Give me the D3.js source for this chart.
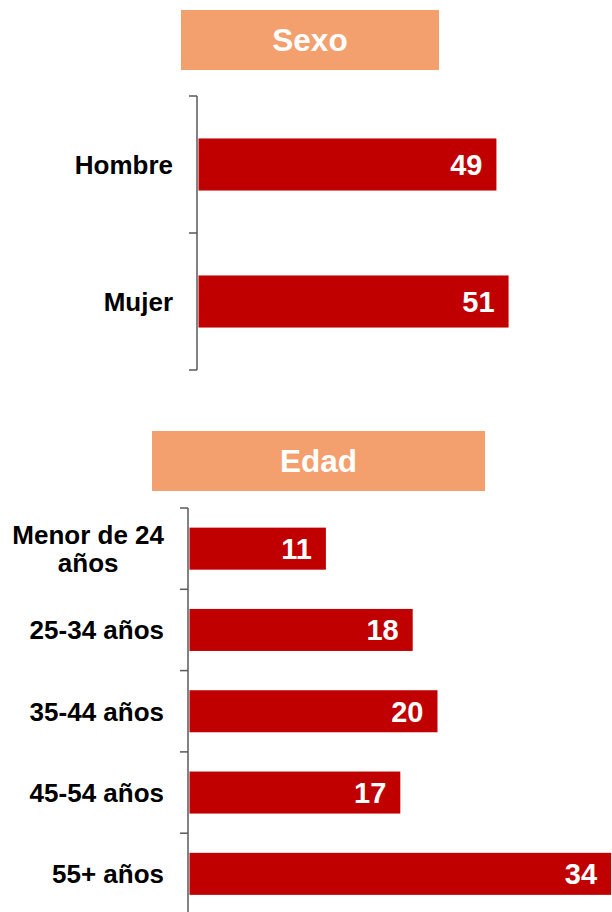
<!DOCTYPE html>
<html>
<head>
<meta charset="utf-8">
<script src="https://cdn.jsdelivr.net/npm/d3@7"></script>
<style>
  body { margin: 0; background: #fff; }
  svg { display: block; font-family: "Liberation Sans", Arial, sans-serif; }
</style>
</head>
<body>
<div id="chart"></div>
<script>
// data
const sexoLabels = ['Hombre', 'Mujer'];
const sexoValues = [49, 51];
const edadLabels = ['Menor de 24|años', '25-34 años', '35-44 años', '45-54 años', '55+ años'];
const edadValues = [11, 18, 20, 17, 34];

const width = 612, height = 912;
const barColor = '#C00000';
const headColor = '#F4A06E';
const axisColor = '#595959';

const svg = d3.select('#chart').append('svg')
    .attr('width', width)
    .attr('height', height);

function panel(cfg) {
    const g = svg.append('g');

    // header box
    g.append('rect')
        .attr('x', cfg.head[0]).attr('y', cfg.head[1])
        .attr('width', cfg.head[2]).attr('height', cfg.head[3])
        .attr('fill', headColor);
    g.append('text')
        .attr('x', cfg.head[0] + cfg.head[2] / 2)
        .attr('y', cfg.head[1] + cfg.head[3] / 2)
        .attr('dy', '0.36em')
        .attr('text-anchor', 'middle')
        .attr('font-size', 31.5).attr('font-weight', 'bold')
        .attr('fill', '#fff')
        .text(cfg.title);

    const y = d3.scaleBand()
        .domain(cfg.labels)
        .range([cfg.y0, cfg.y1])
        .paddingInner(cfg.pad).paddingOuter(cfg.pad / 2);

    const x = d3.scaleLinear()
        .domain([0, cfg.max])
        .range([cfg.axisX + 1.5, cfg.axisX + 1.5 + cfg.span]);

    // axis line + ticks on category boundaries
    const step = y.step();
    g.append('line')
        .attr('x1', cfg.axisX).attr('x2', cfg.axisX)
        .attr('y1', cfg.y0).attr('y2', cfg.y1)
        .attr('stroke', axisColor).attr('stroke-width', 1.5);
    d3.range(cfg.labels.length + 1).forEach(i => {
        g.append('line')
            .attr('x1', cfg.axisX - 8).attr('x2', cfg.axisX)
            .attr('y1', cfg.y0 + i * step).attr('y2', cfg.y0 + i * step)
            .attr('stroke', axisColor).attr('stroke-width', 1.5);
    });

    // bars
    g.selectAll('rect.bar')
        .data(cfg.values)
        .enter().append('rect')
        .attr('class', 'bar')
        .attr('x', x(0))
        .attr('y', (d, i) => y(cfg.labels[i]))
        .attr('width', d => x(d) - x(0))
        .attr('height', y.bandwidth())
        .attr('fill', barColor);

    // values
    g.selectAll('text.val')
        .data(cfg.values)
        .enter().append('text')
        .attr('class', 'val')
        .attr('x', d => x(d) - 14)
        .attr('y', (d, i) => y(cfg.labels[i]) + y.bandwidth() / 2)
        .attr('dy', '0.36em')
        .attr('text-anchor', 'end')
        .attr('font-size', 29).attr('font-weight', 'bold')
        .attr('fill', '#fff')
        .text(d => d);

    // category labels
    const labelRight = cfg.axisX - 24;
    cfg.labels.forEach(lab => {
        const lines = lab.split('|');
        const cy = y(lab) + y.bandwidth() / 2;
        const t = g.append('text')
            .attr('font-size', 26).attr('font-weight', 'bold')
            .attr('fill', '#000');
        const lh = 28.5;
        lines.forEach((ln, k) => {
            t.append('tspan')
                .attr('y', cy + (k - (lines.length - 1) / 2) * lh)
                .attr('dy', '0.36em')
                .text(ln);
        });
        if (lines.length > 1) {
            let w = 0;
            t.selectAll('tspan').each(function () { w = Math.max(w, this.getComputedTextLength()); });
            t.attr('text-anchor', 'middle');
            t.selectAll('tspan').attr('x', labelRight - w / 2);
        } else {
            t.attr('text-anchor', 'end');
            t.selectAll('tspan').attr('x', labelRight);
        }
    });
}

panel({
    title: 'Sexo',
    head: [181, 10, 258, 60],
    labels: sexoLabels, values: sexoValues,
    axisX: 197, y0: 96, y1: 370, pad: 0.62,
    max: 100, span: 608
});

panel({
    title: 'Edad',
    head: [152, 431, 333, 60],
    labels: edadLabels, values: edadValues,
    axisX: 188, y0: 508, y1: 914.5, pad: 0.483,
    max: 50, span: 620
});
</script>
</body>
</html>
